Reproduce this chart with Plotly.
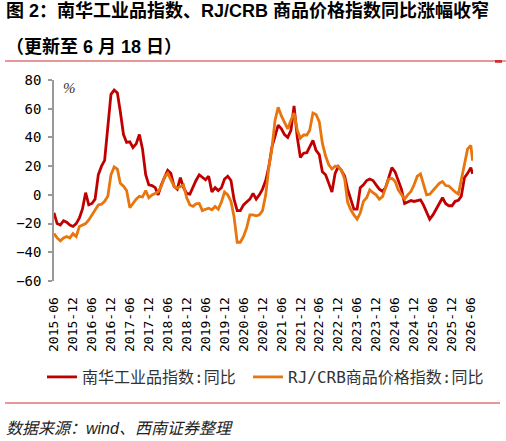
import plotly.graph_objects as go
import pandas as pd

# ---------------- data (monthly, 2015-06 .. 2026-06, plus last reading 2026-06-18) ----------------
dates = [d.strftime("%Y-%m-%d") for d in pd.date_range("2015-06-01", "2026-06-01", freq="MS")] + ["2026-06-18"]

nanhua_yoy = [
    -12.5, -20, -21, -18, -19, -21, -22, -20, -16, -10,
    1.5, -7, -6, -3, 14, 20, 24, 45, 70, 73,
    71, 58, 42, 36.5, 37, 33, 35.5, 42, 32, 14,
    7, 6.5, 5, 0, 7, 12, 17, 15, 6, 4,
    12, 5, 1, 0.5, 6, 10, 14, 12, 10.5, 13,
    2, 5, 3, 5, 11, 13, 10, -3, -11, -11,
    -7, -5, -3, 1, -3, 0, 4, 10, 20, 33,
    42, 48.6, 46, 42, 40, 45, 62, 40, 26, 29,
    29.4, 34, 38, 31, 28, 16, 14, 8, 2, 15,
    19.7, 17, 13, 4, -4, -10, -10, 5, 7, 10,
    11, 10, 7, 4, 2.5, 5, 12, 19, 16, 10,
    4, -6, -5, -4, -4.6, -4, -3.5, -7, -12, -17,
    -14, -10, -6, -2, -6, -7.6, -7.6, -4.5, -3.8, -1,
    12, 15, 19, 14.6,
]

rjcrb_yoy = [
    -27, -30, -32, -30, -29, -30, -27, -29, -22, -21,
    -20, -17.5, -14, -10, -7, -6.5, -4.5, -1, 14, 19.5,
    18, 8, 6, 3, -9, -6, -3, -1, -1.5, 3,
    -2, 0, 1, 2, 6, 12.5, 15, 10, 6, 4.6,
    6, 6.9, -2, -7, -8, -6.2, -6, -11, -10, -9.3,
    -10.4, -8.1, -10, -5, 2, 0, -4.6, -15, -33, -33,
    -29, -23, -14, -14, -14.6, -13.9, -11, 0, 20, 32,
    52, 61, 55, 50, 46, 52, 57, 45, 39.4, 41.7,
    41.7, 45, 57, 56, 51, 36, 27, 21, 18, 20,
    19.7, 17, 11, -5, -10.4, -14, -16.9, -12.7, -4.6, -2,
    3.5, 1.5, 0, -3, -1.2, 5, 11, 11.6, 9.5, 3.5,
    0, -3, 0, 2.3, 7, 13, 14.5, 8, 0, 0.5,
    3, 5.5, 8, 9.3, 6.5, 6.2, 4, 2, 0.5, 10,
    22, 32, 34.5, 23.8,
]

series_names = ["南华工业品指数:同比", "RJ/CRB商品价格指数:同比"]
tick_dates = [d.strftime("%Y-%m-%d") for d in pd.date_range("2015-06-01", "2026-06-01", freq="6MS")]
tick_labels = [d[:7] for d in tick_dates]
y_ticks = [-60, -40, -20, 0, 20, 40, 60, 80]

title_line1 = "<b>图 2：南华工业品指数、RJ/CRB 商品价格指数同比涨幅收窄</b>"
title_line2 = "<b>（更新至 6 月 18 日）</b>"
source_text = "数据来源：wind、西南证券整理"

# ---------------- layout geometry ----------------
W, H = 506, 441
L, R, T, B = 54, 33, 80, 160
PW = W - L - R
PH = H - T - B


def fx(x):
    return (x - L) / PW


def fy(y):
    return (H - B - y) / PH


RED = "#C00000"
ORANGE = "#E8750E"
GRAY = "#999999"
XRANGE = ["2015-06-01", "2026-06-22"]

fig = go.Figure()
fig.add_trace(go.Scatter(x=dates, y=nanhua_yoy, mode="lines", name=series_names[0],
                         legendwidth=161, line=dict(color=RED, width=2.8)))
fig.add_trace(go.Scatter(x=dates, y=rjcrb_yoy, mode="lines", name=series_names[1],
                         legendwidth=205, line=dict(color=ORANGE, width=2.8)))

mono = "DejaVu Sans Mono, Noto Sans CJK SC"

fig.update_layout(
    width=W, height=H,
    margin=dict(l=L, r=R, t=T, b=B, pad=0),
    paper_bgcolor="white", plot_bgcolor="white",
    showlegend=True,
    legend=dict(orientation="h", x=fx(42), xanchor="left", y=fy(377), yanchor="middle",
                font=dict(family=mono, size=16, color="#333333"),
                itemclick=False, bgcolor="rgba(0,0,0,0)", tracegroupgap=0),
    xaxis=dict(type="date", range=XRANGE, tickvals=tick_dates, ticktext=tick_labels,
               tickangle=-90, tickfont=dict(family=mono, size=13, color="black"),
               showline=False, showgrid=False, zeroline=False,
               ticks="outside", ticklen=10, tickcolor="rgba(0,0,0,0)"),
    xaxis2=dict(type="date", range=XRANGE, overlaying="x", anchor="free",
                position=60 / 140, side="bottom",
                tickvals=tick_dates, showticklabels=False,
                showline=True, linecolor=GRAY, linewidth=1.5,
                ticks="outside", ticklen=4, tickcolor=GRAY, tickwidth=1.5,
                showgrid=False, zeroline=False),
    yaxis=dict(range=[-60, 80], tickvals=y_ticks, showline=True, linecolor=GRAY, linewidth=1.5,
               ticks="outside", ticklen=4, tickcolor=GRAY, tickwidth=1.5,
               ticklabelstandoff=4,
               tickfont=dict(family=mono, size=14, color="black"),
               showgrid=False, zeroline=False),
)

annotations = [
    dict(text=title_line1, x=fx(4), y=fy(10), xanchor="left", yanchor="middle",
         font=dict(family="Liberation Sans, Noto Sans CJK SC", size=18, color="black")),
    dict(text=title_line2, x=fx(4), y=fy(47), xanchor="left", yanchor="middle",
         font=dict(family="Liberation Sans, Noto Sans CJK SC", size=18, color="black")),
    dict(text="%", x=fx(69), y=fy(88), xanchor="center", yanchor="middle",
         font=dict(family="Liberation Serif", size=15, color="#333333", style="italic")),
    dict(text=source_text, x=fx(4), y=fy(428), xanchor="left", yanchor="middle",
         font=dict(family="Liberation Sans, Noto Sans CJK SC", size=16, color="#222222",
                   style="italic")),
]
for a in annotations:
    a.update(xref="paper", yref="paper", showarrow=False)
fig.update_layout(annotations=annotations)

shapes = [
    dict(type="line", x0=fx(5), x1=fx(506), y0=fy(61), y1=fy(61),
         line=dict(color="#D03030", width=1)),
    dict(type="rect", x0=fx(495), x1=fx(502), y0=fy(60), y1=fy(62.8),
         line=dict(width=0), fillcolor="#D03030"),
    dict(type="line", x0=fx(5), x1=fx(500), y0=fy(403), y1=fy(403),
         line=dict(color="#D03030", width=1.2)),
]
for s in shapes:
    s.update(xref="paper", yref="paper")
fig.update_layout(shapes=shapes)

fig.write_html("out.html")
